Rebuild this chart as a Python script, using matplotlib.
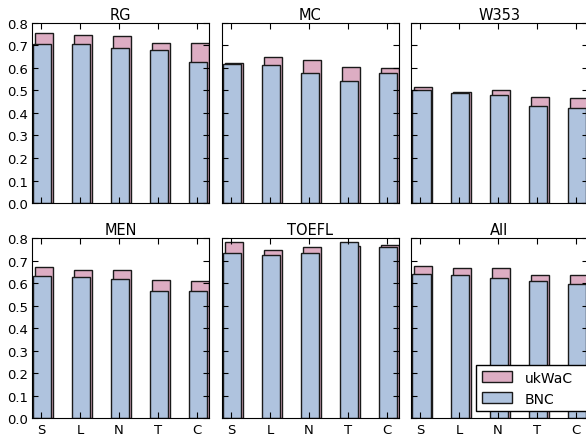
import numpy as np
import matplotlib
matplotlib.use('Agg')
import matplotlib.pyplot as plt

# method labels and datasets
methods = ['S', 'L', 'N', 'T', 'C']
datasets = ['RG', 'MC', 'W353', 'MEN', 'TOEFL', 'All']

# scores per dataset (ukWaC vs BNC)
ukwac_rg = [0.754, 0.748, 0.744, 0.711, 0.712]
bnc_rg = [0.707, 0.707, 0.690, 0.680, 0.627]
ukwac_mc = [0.620, 0.647, 0.636, 0.603, 0.598]
bnc_mc = [0.619, 0.615, 0.579, 0.542, 0.579]
ukwac_w353 = [0.516, 0.495, 0.501, 0.470, 0.465]
bnc_w353 = [0.501, 0.487, 0.481, 0.430, 0.424]
ukwac_men = [0.672, 0.658, 0.658, 0.613, 0.609]
bnc_men = [0.634, 0.626, 0.620, 0.567, 0.567]
ukwac_toefl = [0.785, 0.749, 0.763, 0.764, 0.772]
bnc_toefl = [0.735, 0.725, 0.735, 0.785, 0.763]
ukwac_all = [0.675, 0.667, 0.667, 0.637, 0.637]
bnc_all = [0.641, 0.635, 0.625, 0.609, 0.596]

ukwac = [ukwac_rg, ukwac_mc, ukwac_w353, ukwac_men, ukwac_toefl, ukwac_all]
bnc = [bnc_rg, bnc_mc, bnc_w353, bnc_men, bnc_toefl, bnc_all]

plt.rcParams['font.family'] = 'DejaVu Sans'
plt.rcParams['xtick.direction'] = 'in'
plt.rcParams['ytick.direction'] = 'in'

pink = '#ddadc3'
blue = '#afc3de'
edge = '#1a1a1a'

fig = plt.figure(figsize=(5.86, 4.35), dpi=100)
lefts = [0.0546, 0.3788, 0.7014]
bottoms = [0.531, 0.036]
w, h = 0.302, 0.414

x = np.arange(len(methods))
for i, name in enumerate(datasets):
    row, col = divmod(i, 3)
    ax = fig.add_axes([lefts[col], bottoms[row], w, h])
    ax.bar(x - 0.15, ukwac[i], width=0.47, align='edge', color=pink,
           edgecolor=edge, linewidth=1.0, label='ukWaC')
    ax.bar(x - 0.2, bnc[i], width=0.47, align='edge', color=blue,
           edgecolor=edge, linewidth=1.0, label='BNC')
    ax.set_xlim(-0.23, 4.31)
    ax.set_ylim(0, 0.8)
    ax.set_yticks(np.arange(0, 0.81, 0.1))
    ax.set_xticks(x)
    ax.tick_params(top=True, right=True, length=4, width=0.8,
                   labelsize=9.5, pad=3)
    if row == 1:
        ax.set_xticklabels(methods)
    else:
        ax.set_xticklabels([])
    if col != 0:
        ax.set_yticklabels([])
    ax.set_title(name, fontsize=10.5, pad=3)
    for s in ax.spines.values():
        s.set_linewidth(0.8)
    if name == 'All':
        # legend box runs past the right edge of the figure, as in the original
        ax.legend(loc='lower left', bbox_to_anchor=(0.367, 0.04, 0.72, 0.25),
                  mode='expand', borderaxespad=0, fontsize=10, fancybox=False,
                  framealpha=1, edgecolor='black', handlelength=2.2,
                  handleheight=0.85, borderpad=0.4, labelspacing=0.5,
                  handletextpad=0.9)

plt.savefig('out.png', dpi=100)
